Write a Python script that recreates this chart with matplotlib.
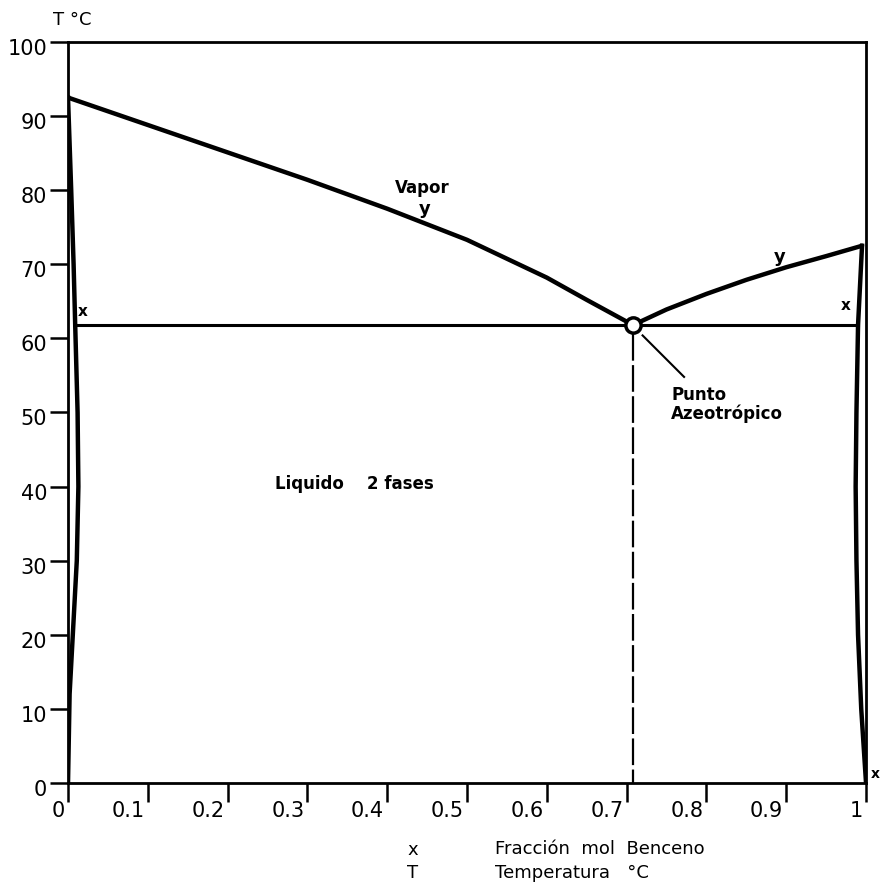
import numpy as np
import matplotlib
matplotlib.use("Agg")
import matplotlib.pyplot as plt
from matplotlib.transforms import ScaledTranslation

# curva de vapor (y) - rama rica en agua
y_izq = [0.0, 0.1, 0.2, 0.3, 0.4, 0.5, 0.6, 0.65, 0.708]
T_izq = [92.5, 88.8, 85.1, 81.4, 77.5, 73.3, 68.2, 65.2, 61.8]
# curva de vapor - rama rica en benceno
y_der = [0.708, 0.75, 0.8, 0.85, 0.9, 0.95, 0.995]
T_der = [61.8, 63.9, 66.0, 67.9, 69.6, 71.1, 72.5]
# curvas de liquido (x)
T_liq = [92.5, 80, 70, 61.8, 50, 40, 30, 20, 12, 0]
x_liq_izq = [0.0, 0.004, 0.007, 0.009, 0.012, 0.013, 0.011, 0.006, 0.002, 0.0]
T_liq_der = [72.5, 61.8, 50, 40, 30, 20, 10, 0]
x_liq_der = [0.995, 0.99, 0.988, 0.987, 0.988, 0.99, 0.994, 1.0]

x_az, T_az = 0.708, 61.8

xticks = [0, 0.1, 0.2, 0.3, 0.4, 0.5, 0.6, 0.7, 0.8, 0.9, 1.0]
xticklabels = ["0", "0.1", "0.2", "0.3", "0.4", "0.5", "0.6", "0.7", "0.8", "0.9", "1"]
yticks = [0, 10, 20, 30, 40, 50, 60, 70, 80, 90, 100]

fig = plt.figure(figsize=(8.81, 8.86), dpi=100)
ax = fig.add_axes([0.0772, 0.1163, 0.9058, 0.8363])

lw = 3.2
ax.plot(y_izq, T_izq, color="black", lw=lw, solid_capstyle="round")
ax.plot(y_der, T_der, color="black", lw=lw, solid_capstyle="round")
ax.plot(x_liq_izq, T_liq, color="black", lw=lw)
ax.plot(x_liq_der, T_liq_der, color="black", lw=lw)

# linea de tres fases
ax.plot([x_liq_izq[3], x_liq_der[1]], [T_az, T_az], color="black", lw=2.2)
# linea del azeotropo
ax.plot([x_az, x_az], [T_az - 1.2, 0], color="black", lw=1.6, dashes=(12, 2))
ax.plot([x_az], [T_az], marker="o", ms=11, mfc="white", mec="black", mew=2.5)
ax.plot([x_az + 0.012, x_az + 0.064], [T_az - 1.4, T_az - 7.0], color="black", lw=1.5)

ax.text(x_az + 0.048, T_az - 8.2, "Punto\nAzeotrópico", fontsize=12, fontweight="bold",
        va="top", ha="left", linespacing=1.05)
ax.text(0.41, 80.3, "Vapor", fontsize=12, fontweight="bold", ha="left", va="center")
ax.text(0.44, 77.4, "y", fontsize=13, fontweight="bold", ha="left", va="center")
ax.text(0.885, 71.0, "y", fontsize=13, fontweight="bold", ha="left", va="center")
ax.text(0.26, 40.3, "Liquido    2 fases", fontsize=12, fontweight="bold", ha="left", va="center")
ax.text(0.012, 62.6, "x", fontsize=11, fontweight="bold", ha="left", va="bottom")
ax.text(0.981, 64.5, "x", fontsize=11, fontweight="bold", ha="right", va="center")
ax.text(1.006, 1.2, "x", fontsize=10, fontweight="bold", ha="left", va="center",
        clip_on=False)

ax.set_xlim(0, 1.0)
ax.set_ylim(0, 100)
for s in ax.spines.values():
    s.set_linewidth(2.0)

ax.set_xticks(xticks)
ax.set_xticklabels(xticklabels, fontsize=15, ha="right")
ax.set_yticks(yticks)
ax.set_yticklabels([str(v) for v in yticks], fontsize=15)
ax.tick_params(axis="x", direction="out", length=14, width=1.8, pad=-1)
ax.tick_params(axis="y", direction="out", length=13, width=1.8, pad=2)

dx = ScaledTranslation(-3 / 100, 0, fig.dpi_scale_trans)
for lab in ax.get_xticklabels():
    lab.set_transform(lab.get_transform() + dx)
dy = ScaledTranslation(0, -5 / 100, fig.dpi_scale_trans)
for lab in ax.get_yticklabels():
    lab.set_transform(lab.get_transform() + dy)

fig.text(72 / 881, 1 - 20 / 886, "T °C", fontsize=13, ha="center", va="center")
fig.text(413 / 881, 1 - 850 / 886, "x", fontsize=13, ha="center", va="center")
fig.text(413 / 881, 1 - 873 / 886, "T", fontsize=13, ha="center", va="center")
fig.text(495 / 881, 1 - 849 / 886, "Fracción  mol  Benceno", fontsize=13, ha="left", va="center")
fig.text(495 / 881, 1 - 873 / 886, "Temperatura   °C", fontsize=13, ha="left", va="center")

fig.savefig("out.png", dpi=100)
